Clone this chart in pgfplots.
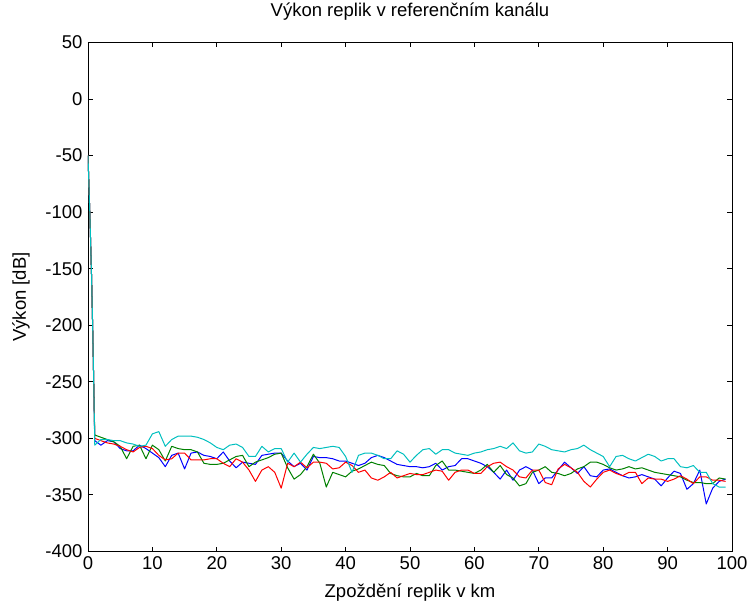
\documentclass[border=0pt]{standalone}
\usepackage{pgfplots}
\pgfplotsset{compat=1.18}
\usepackage{pgfplotstable}
\usepackage{fontspec}
\setmainfont{Liberation Sans}
\definecolor{mred}{rgb}{1,0,0}
\definecolor{mgreen}{rgb}{0,0.5,0}
\definecolor{mblue}{rgb}{0,0,1}
\definecolor{mcyan}{rgb}{0,0.75,0.75}
\pgfplotstableread{
x r g b c
0 -50 -50 -50 -50
0.3 -104 -104 -104 -104
0.55 -156 -156 -156 -156
0.75 -208 -208 -208 -208
0.92 -260 -260 -260 -260
1.05 -300 -297 -302 -306
2 -302 -299 -306 -301
3 -304 -301 -302 -301
4 -305 -303 -303 -302
5 -307 -307 -309 -302
6 -310 -318 -311 -304
7 -312 -307 -311 -305
8 -308 -306 -306 -307
9 -307 -318 -309 -306
10 -309 -306 -313 -296
11 -315 -310 -317 -294
12 -319 -320 -325 -307
13 -318 -307 -315 -301
14 -313 -309 -313 -298
15 -313 -310 -327 -298
16 -319 -310 -313 -298
17 -319 -312 -312 -299
18 -319 -322 -315 -301
19 -318 -323 -316 -304
20 -318 -323 -318 -308
21 -322 -322 -312 -310
22 -325 -319 -320 -306
23 -318 -316 -326 -305
24 -321 -315 -321 -308
25 -328 -325 -322 -316
26 -338 -321 -323 -316
27 -328 -319 -315 -307
28 -325 -317 -314 -312
29 -330 -314 -313 -309
30 -344 -313 -313 -309
31 -322 -326 -320 -321
32 -325 -336 -325 -313
33 -321 -332 -322 -321
34 -326 -325 -328 -314
35 -321 -314 -316 -308
36 -321 -322 -317 -309
37 -322 -343 -317 -308
38 -327 -330 -318 -307
39 -326 -332 -320 -308
40 -321 -334 -320 -316
41 -324 -329 -322 -330
42 -330 -327 -324 -315
43 -328 -324 -322 -313
44 -335 -321 -317 -313
45 -337 -323 -315 -315
46 -334 -324 -317 -318
47 -330 -331 -320 -318
48 -335 -333 -323 -311
49 -333 -334 -324 -314
50 -331 -334 -325 -321
51 -332 -331 -325 -315
52 -332 -333 -326 -310
53 -330 -333 -325 -309
54 -328 -324 -322 -314
55 -329 -320 -328 -310
56 -337 -328 -325 -310
57 -330 -328 -324 -313
58 -328 -329 -318 -314
59 -328 -330 -318 -315
60 -331 -331 -320 -313
61 -331 -328 -322 -312
62 -325 -323 -325 -310
63 -322 -330 -330 -309
64 -321 -324 -336 -307
65 -325 -332 -328 -309
66 -328 -335 -337 -304
67 -334 -342 -328 -311
68 -335 -340 -325 -313
69 -328 -330 -328 -312
70 -328 -328 -340 -305
71 -339 -325 -335 -307
72 -341 -330 -335 -310
73 -327 -331 -328 -311
74 -323 -333 -321 -312
75 -326 -331 -326 -310
76 -330 -327 -331 -309
77 -338 -325 -325 -306
78 -343 -321 -333 -310
79 -336 -321 -334 -313
80 -330 -323 -328 -316
81 -328 -326 -327 -325
82 -331 -328 -330 -316
83 -333 -327 -333 -315
84 -330 -325 -335 -318
85 -330 -327 -334 -320
86 -340 -326 -332 -317
87 -335 -328 -334 -314
88 -336 -330 -336 -316
89 -336 -331 -342 -320
90 -338 -332 -335 -318
91 -336 -333 -329 -318
92 -333 -334 -331 -325
93 -336 -337 -345 -326
94 -340 -339 -340 -324
95 -334 -339 -328 -330
96 -334 -340 -358 -330
97 -337 -340 -344 -340
98 -337 -335 -338 -343
99 -338 -336 -336 -343
}\data
\begin{document}
\begin{tikzpicture}
\useasboundingbox (-88pt,-53.5pt) rectangle (661pt,551.5pt);
\begin{axis}[
  at={(0,0)}, anchor=south west,
  width=644pt, height=509pt, scale only axis,
  xmin=0, xmax=100, ymin=-400, ymax=50,
  xtick={0,10,...,100},
  xticklabels={0,10,20,30,40,50,60,70,80,90,100},
  ytick={-400,-350,-300,-250,-200,-150,-100,-50,0,50},
  yticklabels={-400,-350,-300,-250,-200,-150,-100,-50,0,50},
  tick align=inside, tick pos=both,
  major tick length=5pt,
  axis line style={black, line width=0.9pt},
  every tick/.style={black, line width=0.9pt},
  tick label style={font=\fontsize{18.5}{20}\selectfont},
  xticklabel style={yshift=-2pt},
  yticklabel style={xshift=-2pt},
  title={Výkon replik v referenčním kanálu},
  title style={font=\fontsize{18.5}{20}\selectfont, at={(axis description cs:0.5,1.048)}, anchor=center},
  xlabel={Zpoždění replik v km},
  xlabel style={font=\fontsize{18.5}{20}\selectfont, at={(axis description cs:0.5,-0.0815)}, anchor=center},
  ylabel={Výkon [dB]},
  ylabel style={font=\fontsize{18.5}{20}\selectfont, at={(axis description cs:-0.104,0.5)}, anchor=center},
  every axis plot/.append style={line width=1pt, line join=round},
]
\addplot[mblue] table[x=x, y=b] {\data};
\addplot[mgreen] table[x=x, y=g] {\data};
\addplot[mred] table[x=x, y=r] {\data};
\addplot[mcyan] table[x=x, y=c] {\data};
\end{axis}
\end{tikzpicture}
\end{document}
